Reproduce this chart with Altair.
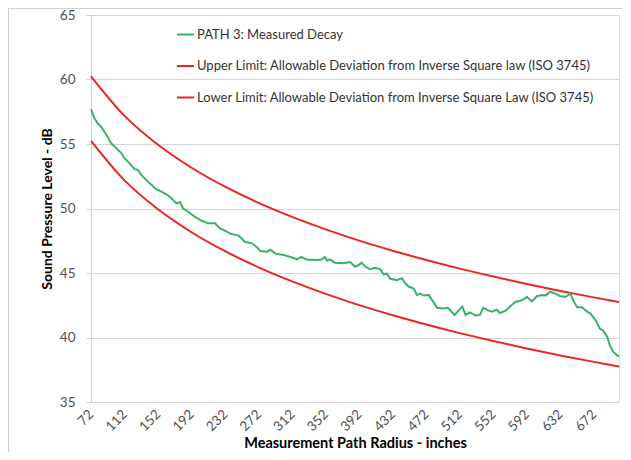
import altair as alt
import pandas as pd

# Measured decay (PATH 3)
meas_x = [72, 76, 80, 84, 88, 92, 96, 102, 108, 112, 118, 124, 128, 132, 138, 144, 150, 156, 162, 168,
          174, 178, 182, 188, 196, 204, 212, 220, 226, 234, 238, 248, 256, 264, 270, 274, 282, 286, 292, 302,
          312, 318, 323, 329, 341, 347, 351, 354, 357, 363, 373, 381, 387, 391, 395, 399, 405, 411, 417, 421,
          425, 429, 437, 443, 447, 451, 457, 461, 465, 469, 475, 479, 485, 492, 498, 502, 506, 510, 515, 519,
          524, 531, 536, 540, 546, 550, 556, 560, 566, 572, 578, 584, 588, 592, 598, 604, 610, 614, 620, 626,
          632, 638, 644, 648, 652, 658, 662, 668, 674, 679, 683, 688, 691, 695, 700, 702]
meas_y = [57.7, 57.0, 56.6, 56.35, 55.95, 55.55, 55.05, 54.7, 54.3, 53.9, 53.5, 53.05, 53.0, 52.6, 52.2, 51.85, 51.5, 51.3, 51.1, 50.8,
          50.4, 50.5, 50.0, 49.75, 49.35, 49.05, 48.85, 48.85, 48.45, 48.2, 48.05, 47.9, 47.4, 47.3, 47.0, 46.7, 46.65, 46.8, 46.5, 46.4,
          46.2, 46.05, 46.25, 46.05, 46.0, 46.05, 46.25, 45.95, 46.05, 45.8, 45.75, 45.85, 45.5, 45.6, 45.8, 45.5, 45.3, 45.4, 45.3, 44.9,
          44.95, 44.55, 44.45, 44.6, 44.2, 43.95, 43.8, 43.3, 43.4, 43.25, 43.3, 42.9, 42.3, 42.25, 42.3, 42.0, 41.75, 42.05, 42.4, 41.75,
          41.95, 41.7, 41.75, 42.3, 42.1, 42.0, 42.15, 41.9, 42.05, 42.4, 42.75, 42.85, 42.95, 43.15, 42.8, 43.2, 43.3, 43.25, 43.55, 43.4,
          43.2, 43.15, 43.4, 42.8, 42.35, 42.35, 42.1, 41.85, 41.35, 40.7, 40.55, 40.05, 39.4, 38.9, 38.6, 38.55]

# Limit curves, read at the tick positions
lim_x = [72, 112, 152, 192, 232, 272, 312, 352, 392, 432, 472, 512, 552, 592, 632, 672, 702]
upper_y = [60.25, 57.18, 54.94, 53.16, 51.69, 50.44, 49.35, 48.38, 47.51, 46.73, 46.01, 45.34, 44.73, 44.15, 43.61, 43.11, 42.75]
lower_y = [55.25, 52.18, 49.94, 48.16, 46.69, 45.44, 44.35, 43.38, 42.51, 41.73, 41.01, 40.34, 39.73, 39.15, 38.61, 38.11, 37.75]

s_meas = "PATH 3: Measured Decay"
s_up = "Upper Limit: Allowable Deviation from Inverse Square law (ISO 3745)"
s_low = "Lower Limit: Allowable Deviation from Inverse Square Law (ISO 3745)"

x_ticks = list(range(72, 673, 40))
y_ticks = [35, 40, 45, 50, 55, 60, 65]

meas_df = pd.DataFrame({"x": meas_x, "y": meas_y, "series": s_meas})
lim_df = pd.concat([
    pd.DataFrame({"x": lim_x, "y": upper_y, "series": s_up}),
    pd.DataFrame({"x": lim_x, "y": lower_y, "series": s_low}),
])

FONT = "Lato"
GREEN = "#35b36b"
RED = "#ec2424"

color = alt.Color(
    "series:N",
    scale=alt.Scale(domain=[s_meas, s_up, s_low], range=[GREEN, RED, RED]),
    legend=alt.Legend(
        title=None, orient="none", legendX=85, legendY=10,
        symbolType="stroke", symbolSize=289, symbolStrokeWidth=2,
        labelFont=FONT, labelFontSize=13, labelColor="#333333", labelLimit=600,
        rowPadding=14.5, labelOffset=2,
    ),
)

x_enc = alt.X(
    "x:Q",
    scale=alt.Scale(domain=[72, 702], nice=False, zero=False),
    axis=alt.Axis(
        values=x_ticks, title="Measurement Path Radius - inches", grid=False, ticks=False,
        labelAngle=-45, labelAlign="right", labelBaseline="middle", labelPadding=10,
        labelFont=FONT, labelFontSize=13.5, labelColor="#505050",
        domainColor="#d0d0d0", titleFont=FONT, titleFontSize=14.5, titleFontWeight="bold",
        titleColor="#000000", titlePadding=3, labelOverlap=False, labelFlush=False,
    ),
)
y_enc = alt.Y(
    "y:Q",
    scale=alt.Scale(domain=[35, 65], nice=False, zero=False),
    axis=alt.Axis(
        values=y_ticks, title="Sound Pressure Level - dB", grid=True, gridColor="#d6d6d6",
        tickColor="#d0d0d0", tickSize=5, domainColor="#d0d0d0", labelPadding=11,
        labelFont=FONT, labelFontSize=13.5, labelColor="#505050",
        titleFont=FONT, titleFontSize=14, titleFontWeight="bold", titleColor="#000000",
        titlePadding=5,
    ),
)

frame_df = pd.DataFrame({"f": [0]})
frame_left = alt.Chart(frame_df).mark_rule(stroke="#cfcfcf", strokeWidth=1).encode(
    x=alt.value(-82.5), y=alt.value(-6.5), y2=alt.value(600)
)
frame_top = alt.Chart(frame_df).mark_rule(stroke="#cfcfcf", strokeWidth=1).encode(
    x=alt.value(-82.5), x2=alt.value(700), y=alt.value(-6.5)
)

limits = alt.Chart(lim_df).mark_line(strokeWidth=2, interpolate="monotone").encode(
    x=x_enc, y=y_enc, color=color, detail="series:N"
)
measured = alt.Chart(meas_df).mark_line(strokeWidth=2).encode(
    x=x_enc, y=y_enc, color=color
)

chart = alt.layer(frame_left, frame_top, limits, measured).properties(
    width=528, height=387,
    autosize=alt.AutoSizeParams(type="none"),
    padding={"left": 83, "top": 7, "right": 3, "bottom": 50},
).configure_view(stroke=None).configure(background="white")

chart.save("out.html", embed_options={"renderer": "svg", "actions": False})
